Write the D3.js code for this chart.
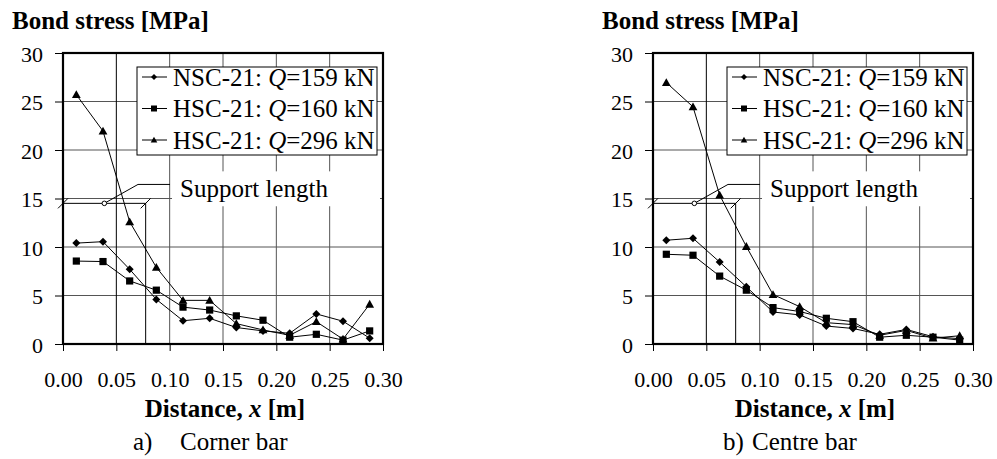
<!DOCTYPE html>
<html>
<head>
<meta charset="utf-8">
<script src="https://cdn.jsdelivr.net/npm/d3@7"></script>
<style>
  body { margin: 0; background: #fff; }
  svg { display: block; }
  text { font-family: "Liberation Serif", "Times New Roman", serif; }
</style>
</head>
<body>
<svg id="chart" width="997" height="459"></svg>
<script>
// distance from bar end [m]
var distance = [0.0125, 0.0375, 0.0625, 0.0875, 0.1125, 0.1375, 0.1625, 0.1875, 0.2125, 0.2375, 0.2625, 0.2875];

// a) corner bar, bond stress [MPa]
var cornerNSC159 = [10.4, 10.55, 7.7, 4.6, 2.4, 2.65, 1.7, 1.35, 1.1, 3.1, 2.35, 0.6];
var cornerHSC160 = [8.55, 8.5, 6.5, 5.55, 3.8, 3.5, 2.9, 2.45, 0.7, 1.0, 0.4, 1.35];
var cornerHSC296 = [25.7, 21.95, 12.6, 7.9, 4.5, 4.5, 2.1, 1.45, 0.9, 2.3, 0.5, 4.1];

// b) centre bar, bond stress [MPa]
var centreNSC159 = [10.7, 10.9, 8.45, 5.9, 3.3, 3.0, 1.85, 1.6, 1.0, 1.5, 0.75, 0.55];
var centreHSC160 = [9.25, 9.15, 7.0, 5.55, 3.75, 3.35, 2.65, 2.3, 0.7, 0.9, 0.7, 0.4];
var centreHSC296 = [26.95, 24.45, 15.35, 10.05, 5.1, 3.85, 2.2, 2.0, 0.9, 1.4, 0.6, 0.85];

var seriesPrefix = ["NSC-21: ", "HSC-21: ", "HSC-21: "];
var seriesLoad = ["=159 kN", "=160 kN", "=296 kN"];
var seriesMarker = ["diamond", "square", "triangle"];

var xTicks = [0, 0.05, 0.10, 0.15, 0.20, 0.25, 0.30];
var yTicks = [0, 5, 10, 15, 20, 25, 30];

// support length annotation (data units)
var supportLength = 0.0775;
var supportDimY = 14.5;
var supportKnee = [0.0703, 16.45];
var supportLeaderEnd = 0.1003;
var supportTextPos = [0.1097, 15.2];

var panels = [
    { offset: 0, tag: "a)", nameX: 117, name: "Corner bar", series: [cornerNSC159, cornerHSC160, cornerHSC296] },
    { offset: 590, tag: "b)", nameX: 99, name: "Centre bar", series: [centreNSC159, centreHSC160, centreHSC296] }
];

var serif = "Liberation Serif, Times New Roman, serif";
var width = 320, height = 291;
var svg = d3.select("#chart");

function markerPath(type, r) {
    if (type === "diamond") {
        return "M0," + (-r) + "L" + r + ",0L0," + r + "L" + (-r) + ",0Z";
    } else if (type === "square") {
        return "M" + (-r) + "," + (-r) + "H" + r + "V" + r + "H" + (-r) + "Z";
    }
    return "M0," + (-r * 1.1) + "L" + (r * 1.1) + "," + (r * 0.85) + "H" + (-r * 1.1) + "Z";
}

function drawPanel(p) {
    var x = d3.scaleLinear().domain([0, 0.3]).range([0, width]);
    var y = d3.scaleLinear().domain([0, 30]).range([height, 0]);

    var g = svg.append("g")
        .attr("font-family", serif)
        .attr("transform", "translate(" + (63 + p.offset) + ",53)");

    // grid
    g.append("g").selectAll("line")
        .data(yTicks.slice(1, -1))
        .enter().append("line")
        .attr("x1", 0).attr("x2", width)
        .attr("y1", function (d) { return y(d); })
        .attr("y2", function (d) { return y(d); })
        .attr("stroke", "#555").attr("stroke-width", 1);
    g.append("g").selectAll("line")
        .data(xTicks.slice(1, -1))
        .enter().append("line")
        .attr("x1", function (d) { return x(d); })
        .attr("x2", function (d) { return x(d); })
        .attr("y1", 0).attr("y2", height)
        .attr("stroke", function (d) { return d === 0.05 ? "#000" : "#555"; })
        .attr("stroke-width", 1);

    // support edge
    g.append("line")
        .attr("x1", x(supportLength)).attr("x2", x(supportLength))
        .attr("y1", y(supportDimY)).attr("y2", height)
        .attr("stroke", "#000");

    // axes
    var yAxis = g.append("g")
        .call(d3.axisLeft(y).tickValues(yTicks).tickSize(8).tickPadding(12).tickFormat(d3.format("d")));
    var xAxis = g.append("g")
        .attr("transform", "translate(0," + height + ")")
        .call(d3.axisBottom(x).tickValues(xTicks).tickSize(7).tickPadding(20).tickFormat(d3.format(".2f")));
    [yAxis, xAxis].forEach(function (a) {
        a.attr("font-family", serif).attr("font-size", 22);
        a.select(".domain").remove();
        a.selectAll("text").attr("fill", "#000");
        a.selectAll("line").attr("stroke", "#000");
    });
    yAxis.selectAll("text").attr("dy", "0.38em");

    // white box behind the label
    g.append("rect")
        .attr("x", x(0.1022)).attr("y", y(17.8))
        .attr("width", width - 3 - x(0.1022))
        .attr("height", y(14.2) - y(17.8))
        .attr("fill", "#fff");

    // series
    var line = d3.line()
        .x(function (d) { return x(d[0]); })
        .y(function (d) { return y(d[1]); });
    p.series.forEach(function (vals, k) {
        var pts = distance.map(function (d, i) { return [d, vals[i]]; });
        g.append("path")
            .datum(pts)
            .attr("d", line)
            .attr("fill", "none")
            .attr("stroke", "#000")
            .attr("stroke-width", 1);
        g.append("g").selectAll("path")
            .data(pts)
            .enter().append("path")
            .attr("transform", function (d) { return "translate(" + x(d[0]) + "," + y(d[1]) + ")"; })
            .attr("d", markerPath(seriesMarker[k], seriesMarker[k] === "square" ? 3.6 : 4))
            .attr("fill", "#000");
    });

    // support length dimension
    var ann = g.append("g").attr("stroke", "#000").attr("stroke-width", 1).attr("fill", "none");
    ann.append("line")
        .attr("x1", x(0)).attr("x2", x(supportLength))
        .attr("y1", y(supportDimY)).attr("y2", y(supportDimY));
    [0, supportLength].forEach(function (d) {
        ann.append("line")
            .attr("x1", x(d) - 5).attr("y1", y(supportDimY) + 5)
            .attr("x2", x(d) + 5).attr("y2", y(supportDimY) - 5);
    });
    ann.append("polyline")
        .attr("points", [
            [x(supportLength / 2), y(supportDimY)],
            [x(supportKnee[0]), y(supportKnee[1])],
            [x(supportLeaderEnd), y(supportKnee[1])]
        ].join(" "));
    ann.append("circle")
        .attr("cx", x(supportLength / 2)).attr("cy", y(supportDimY))
        .attr("r", 2.3).attr("fill", "#fff");
    g.append("text")
        .attr("x", x(supportTextPos[0])).attr("y", y(supportTextPos[1]))
        .attr("font-size", 25)
        .text("Support length");

    // legend
    var leg = g.append("g").attr("transform", "translate(74,14)");
    leg.append("rect")
        .attr("width", 240).attr("height", 88)
        .attr("fill", "#fff").attr("stroke", "#000").attr("stroke-width", 1);
    seriesPrefix.forEach(function (pre, k) {
        var cy = 10 + k * 31.5;
        leg.append("line")
            .attr("x1", 5).attr("x2", 30).attr("y1", cy).attr("y2", cy)
            .attr("stroke", "#000");
        leg.append("path")
            .attr("transform", "translate(17," + cy + ")")
            .attr("d", markerPath(seriesMarker[k], 3))
            .attr("fill", "#000");
        var t = leg.append("text")
            .attr("x", 36).attr("y", cy + 8.5)
            .attr("font-size", 25);
        t.append("tspan").text(pre);
        t.append("tspan").attr("font-style", "italic").text("Q");
        t.append("tspan").text(seriesLoad[k]);
    });

    // frame
    g.append("rect")
        .attr("width", width).attr("height", height)
        .attr("fill", "none").attr("stroke", "#000").attr("stroke-width", 2.2);

    // titles
    g.append("text")
        .attr("x", -51).attr("y", -24)
        .attr("font-size", 25).attr("font-weight", "bold")
        .text("Bond stress [MPa]");
    var xt = g.append("text")
        .attr("x", width / 2 + 2).attr("y", height + 73)
        .attr("text-anchor", "middle")
        .attr("font-size", 25).attr("font-weight", "bold");
    xt.append("tspan").text("Distance, ");
    xt.append("tspan").attr("font-style", "italic").text("x");
    xt.append("tspan").text(" [m]");

    g.append("text")
        .attr("x", 70).attr("y", height + 106)
        .attr("font-size", 25)
        .text(p.tag);
    g.append("text")
        .attr("x", p.nameX).attr("y", height + 106)
        .attr("font-size", 25)
        .text(p.name);
}

panels.forEach(drawPanel);
</script>
</body>
</html>
